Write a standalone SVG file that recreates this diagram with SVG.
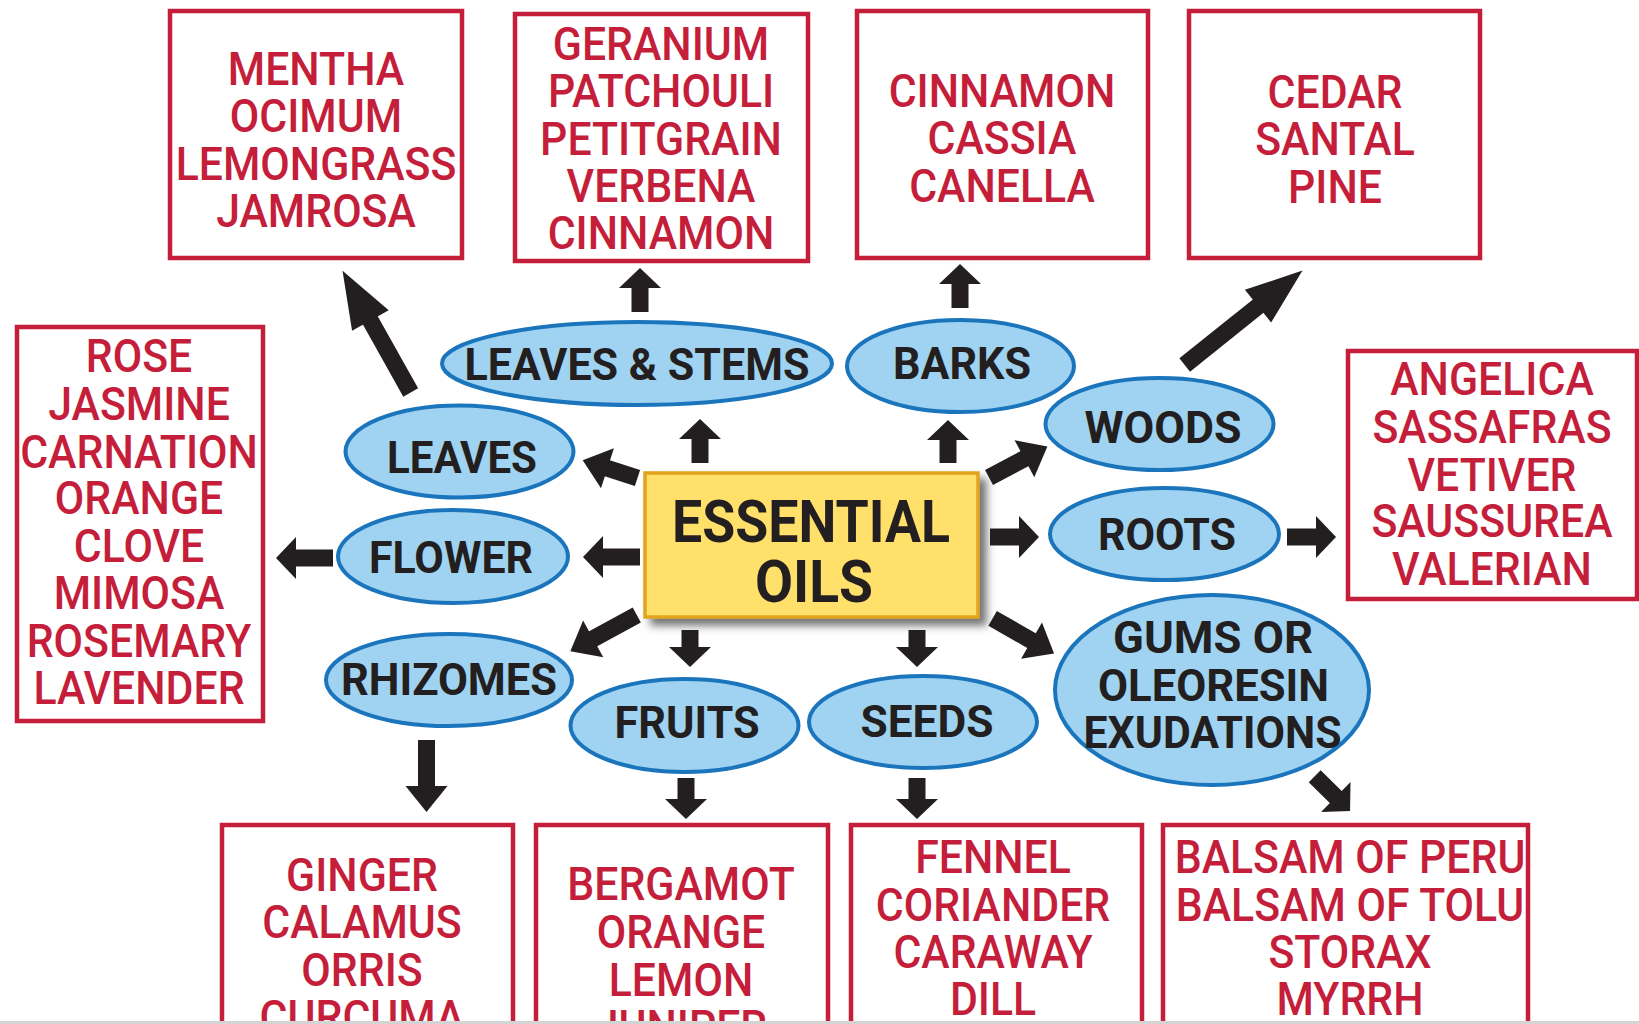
<svg xmlns="http://www.w3.org/2000/svg" width="1639" height="1024" viewBox="0 0 1639 1024">
<style>
.box{fill:#fff;stroke:#C41E3A;stroke-width:4.5}
.rt{font-family:Roboto,"Liberation Sans",sans-serif;font-size:46px;font-weight:500;fill:#C41E3A;text-anchor:middle}
.ell{fill:#9FD3F1;stroke:#1B75BC;stroke-width:4}
.bt{font-family:Roboto,"Liberation Sans",sans-serif;font-weight:bold;font-size:45px;fill:#231F20;text-anchor:middle}
.big{font-size:59px}
.conn{stroke:#231F20;stroke-width:17;stroke-linecap:butt;fill:none}
</style>
<defs>
<filter id="sh" x="-10%" y="-10%" width="130%" height="140%">
<feDropShadow dx="7" dy="7" stdDeviation="4" flood-color="#444" flood-opacity="0.75"/>
</filter>
<marker id="ah" markerUnits="userSpaceOnUse" markerWidth="22" markerHeight="42" refX="1" refY="21" orient="auto" overflow="visible"><path d="M0,0 L20,21 L0,42 Z" fill="#231F20"/></marker>
<marker id="ahd" markerUnits="userSpaceOnUse" markerWidth="28" markerHeight="42" refX="1" refY="21" orient="auto" overflow="visible"><path d="M0,0 L26,21 L0,42 Z" fill="#231F20"/></marker>
<marker id="ahl" markerUnits="userSpaceOnUse" markerWidth="60" markerHeight="42" refX="1" refY="21" orient="auto" overflow="visible"><path d="M0,0 L57,21 L0,42 Z" fill="#231F20"/></marker>
</defs>
<rect x="0" y="0" width="1639" height="1024" fill="#fff"/>

<g id="box-mentha">
<rect class="box" x="170" y="11" width="292" height="247"/>
<text class="rt" transform="translate(316 0) scale(0.93 1)"><tspan x="0" y="85">MENTHA</tspan><tspan x="0" y="132.5">OCIMUM</tspan><tspan x="0" y="180">LEMONGRASS</tspan><tspan x="0" y="227.5">JAMROSA</tspan></text>
</g>
<g id="box-geranium">
<rect class="box" x="515" y="14" width="293" height="247"/>
<text class="rt" transform="translate(661 0) scale(0.93 1)"><tspan x="0" y="60">GERANIUM</tspan><tspan x="0" y="107.3">PATCHOULI</tspan><tspan x="0" y="155">PETITGRAIN</tspan><tspan x="0" y="202.3">VERBENA</tspan><tspan x="0" y="249.3">CINNAMON</tspan></text>
</g>
<g id="box-cinnamon">
<rect class="box" x="857" y="11" width="291" height="247"/>
<text class="rt" transform="translate(1002 0) scale(0.93 1)"><tspan x="0" y="106.7">CINNAMON</tspan><tspan x="0" y="154">CASSIA</tspan><tspan x="0" y="201.7">CANELLA</tspan></text>
</g>
<g id="box-cedar">
<rect class="box" x="1189" y="11" width="291" height="247"/>
<text class="rt" transform="translate(1335 0) scale(0.93 1)"><tspan x="0" y="108.3">CEDAR</tspan><tspan x="0" y="155">SANTAL</tspan><tspan x="0" y="202.7">PINE</tspan></text>
</g>
<g id="box-rose">
<rect class="box" x="17" y="327" width="246" height="394"/>
<text class="rt" transform="translate(139 0) scale(0.93 1)"><tspan x="0" y="371.7">ROSE</tspan><tspan x="0" y="420">JASMINE</tspan><tspan x="0" y="467.7">CARNATION</tspan><tspan x="0" y="514.3">ORANGE</tspan><tspan x="0" y="561.7">CLOVE</tspan><tspan x="0" y="609.3">MIMOSA</tspan><tspan x="0" y="656.7">ROSEMARY</tspan><tspan x="0" y="704">LAVENDER</tspan></text>
</g>
<g id="box-angelica">
<rect class="box" x="1348" y="351" width="289" height="248"/>
<text class="rt" transform="translate(1492 0) scale(0.93 1)"><tspan x="0" y="395">ANGELICA</tspan><tspan x="0" y="442.7">SASSAFRAS</tspan><tspan x="0" y="490.7">VETIVER</tspan><tspan x="0" y="537.3">SAUSSUREA</tspan><tspan x="0" y="585">VALERIAN</tspan></text>
</g>
<g id="box-ginger">
<rect class="box" x="222" y="825" width="291" height="260"/>
<text class="rt" transform="translate(362 0) scale(0.93 1)"><tspan x="0" y="890.7">GINGER</tspan><tspan x="0" y="938.3">CALAMUS</tspan><tspan x="0" y="985.7">ORRIS</tspan><tspan x="0" y="1033.3">CURCUMA</tspan></text>
</g>
<g id="box-bergamot">
<rect class="box" x="536" y="825" width="292" height="260"/>
<text class="rt" transform="translate(681 0) scale(0.93 1)"><tspan x="0" y="900">BERGAMOT</tspan><tspan x="0" y="948.3">ORANGE</tspan><tspan x="0" y="995.7">LEMON</tspan><tspan x="0" y="1043">JUNIPER</tspan></text>
</g>
<g id="box-fennel">
<rect class="box" x="851" y="825" width="291" height="260"/>
<text class="rt" transform="translate(993 0) scale(0.93 1)"><tspan x="0" y="872.7">FENNEL</tspan><tspan x="0" y="920.7">CORIANDER</tspan><tspan x="0" y="968.3">CARAWAY</tspan><tspan x="0" y="1015">DILL</tspan></text>
</g>
<g id="box-balsam">
<rect class="box" x="1163" y="825" width="365" height="260"/>
<text class="rt" transform="translate(1350 0) scale(0.93 1)"><tspan x="0" y="872.7">BALSAM OF PERU</tspan><tspan x="0" y="920.7">BALSAM OF TOLU</tspan><tspan x="0" y="968.3">STORAX</tspan><tspan x="0" y="1015">MYRRH</tspan></text>
</g>

<g id="node-leaves-stems">
<ellipse class="ell" cx="637" cy="363.5" rx="195" ry="41.5"/>
<text class="bt" x="637" y="380" textLength="345" lengthAdjust="spacingAndGlyphs">LEAVES &amp; STEMS</text>
</g>
<g id="node-barks">
<ellipse class="ell" cx="960.5" cy="366" rx="113.5" ry="46"/>
<text class="bt" x="962" y="379.3" textLength="138" lengthAdjust="spacingAndGlyphs">BARKS</text>
</g>
<g id="node-woods">
<ellipse class="ell" cx="1159.5" cy="424" rx="114" ry="46"/>
<text class="bt" x="1163" y="442.7" textLength="157" lengthAdjust="spacingAndGlyphs">WOODS</text>
</g>
<g id="node-leaves">
<ellipse class="ell" cx="459.5" cy="451.5" rx="114" ry="46"/>
<text class="bt" x="462" y="472.7" textLength="150" lengthAdjust="spacingAndGlyphs">LEAVES</text>
</g>
<g id="node-flower">
<ellipse class="ell" cx="453" cy="556.5" rx="115" ry="46.5"/>
<text class="bt" x="451" y="572.7" textLength="164" lengthAdjust="spacingAndGlyphs">FLOWER</text>
</g>
<g id="node-rhizomes">
<ellipse class="ell" cx="449" cy="680" rx="123" ry="46"/>
<text class="bt" x="449" y="695" textLength="216" lengthAdjust="spacingAndGlyphs">RHIZOMES</text>
</g>
<g id="node-fruits">
<ellipse class="ell" cx="684.5" cy="725.5" rx="114" ry="46.5"/>
<text class="bt" x="687" y="738.3" textLength="145" lengthAdjust="spacingAndGlyphs">FRUITS</text>
</g>
<g id="node-seeds">
<ellipse class="ell" cx="923" cy="722" rx="114" ry="46"/>
<text class="bt" x="927" y="736.7" textLength="133" lengthAdjust="spacingAndGlyphs">SEEDS</text>
</g>
<g id="node-roots">
<ellipse class="ell" cx="1164.5" cy="534" rx="114.5" ry="46"/>
<text class="bt" x="1167" y="550" textLength="138" lengthAdjust="spacingAndGlyphs">ROOTS</text>
</g>
<g id="node-gums">
<ellipse class="ell" cx="1212" cy="690" rx="157" ry="95"/>
<text class="bt"><tspan x="1213" y="653.3" textLength="200" lengthAdjust="spacingAndGlyphs">GUMS OR</tspan></text>
<text class="bt"><tspan x="1213.5" y="700.7" textLength="231" lengthAdjust="spacingAndGlyphs">OLEORESIN</tspan></text>
<text class="bt"><tspan x="1212.5" y="748.3" textLength="258" lengthAdjust="spacingAndGlyphs">EXUDATIONS</tspan></text>
</g>

<g id="node-essential-oils">
<rect x="645" y="473" width="333" height="144" fill="#FFE06B" stroke="#E2A41C" stroke-width="3.5" filter="url(#sh)"/>
<text class="bt big" x="811" y="542" textLength="278" lengthAdjust="spacingAndGlyphs">ESSENTIAL</text>
<text class="bt big" x="814" y="602" textLength="118" lengthAdjust="spacingAndGlyphs">OILS</text>
</g>

<g id="connectors">
<line class="conn" x1="700" y1="463" x2="700" y2="438" marker-end="url(#ah)"/>
<line class="conn" x1="640" y1="312" x2="640" y2="287" marker-end="url(#ah)"/>
<line class="conn" x1="948" y1="463" x2="948" y2="439" marker-end="url(#ah)"/>
<line class="conn" x1="960" y1="308" x2="960" y2="283" marker-end="url(#ah)"/>
<line class="conn" x1="990" y1="537" x2="1020" y2="537" marker-end="url(#ah)"/>
<line class="conn" x1="1287" y1="537" x2="1317" y2="537" marker-end="url(#ah)"/>
<line class="conn" x1="917" y1="630" x2="917" y2="648" marker-end="url(#ah)"/>
<line class="conn" x1="690" y1="630" x2="690" y2="648" marker-end="url(#ah)"/>
<line class="conn" x1="640" y1="557" x2="602" y2="557" marker-end="url(#ah)"/>
<line class="conn" x1="333" y1="558" x2="295" y2="558" marker-end="url(#ah)"/>
<line class="conn" x1="686" y1="778" x2="686" y2="800" marker-end="url(#ah)"/>
<line class="conn" x1="917" y1="778" x2="917" y2="800" marker-end="url(#ah)"/>
<line class="conn" x1="426.5" y1="740" x2="426.5" y2="787" marker-end="url(#ahd)"/>
<line class="conn" x1="989" y1="477.5" x2="1025.3" y2="458.2" marker-end="url(#ahd)"/>
<line class="conn" x1="992.6" y1="618.3" x2="1032.4" y2="641.1" marker-end="url(#ahd)"/>
<line class="conn" x1="636.8" y1="615" x2="592.3" y2="639.3" marker-end="url(#ahd)"/>
<line class="conn" x1="637.5" y1="478" x2="606.5" y2="468" marker-end="url(#ahd)"/>
<line class="conn" x1="410.7" y1="392.5" x2="369.9" y2="319.7" marker-end="url(#ahl)"/>
<line class="conn" x1="1184.7" y1="365" x2="1258.8" y2="305.6" marker-end="url(#ahl)"/>
<line class="conn" x1="1314.7" y1="776.2" x2="1336.5" y2="797.7" marker-end="url(#ah)"/>
</g>
<rect x="0" y="1021" width="1639" height="3" fill="#D4D4D4"/>
</svg>
